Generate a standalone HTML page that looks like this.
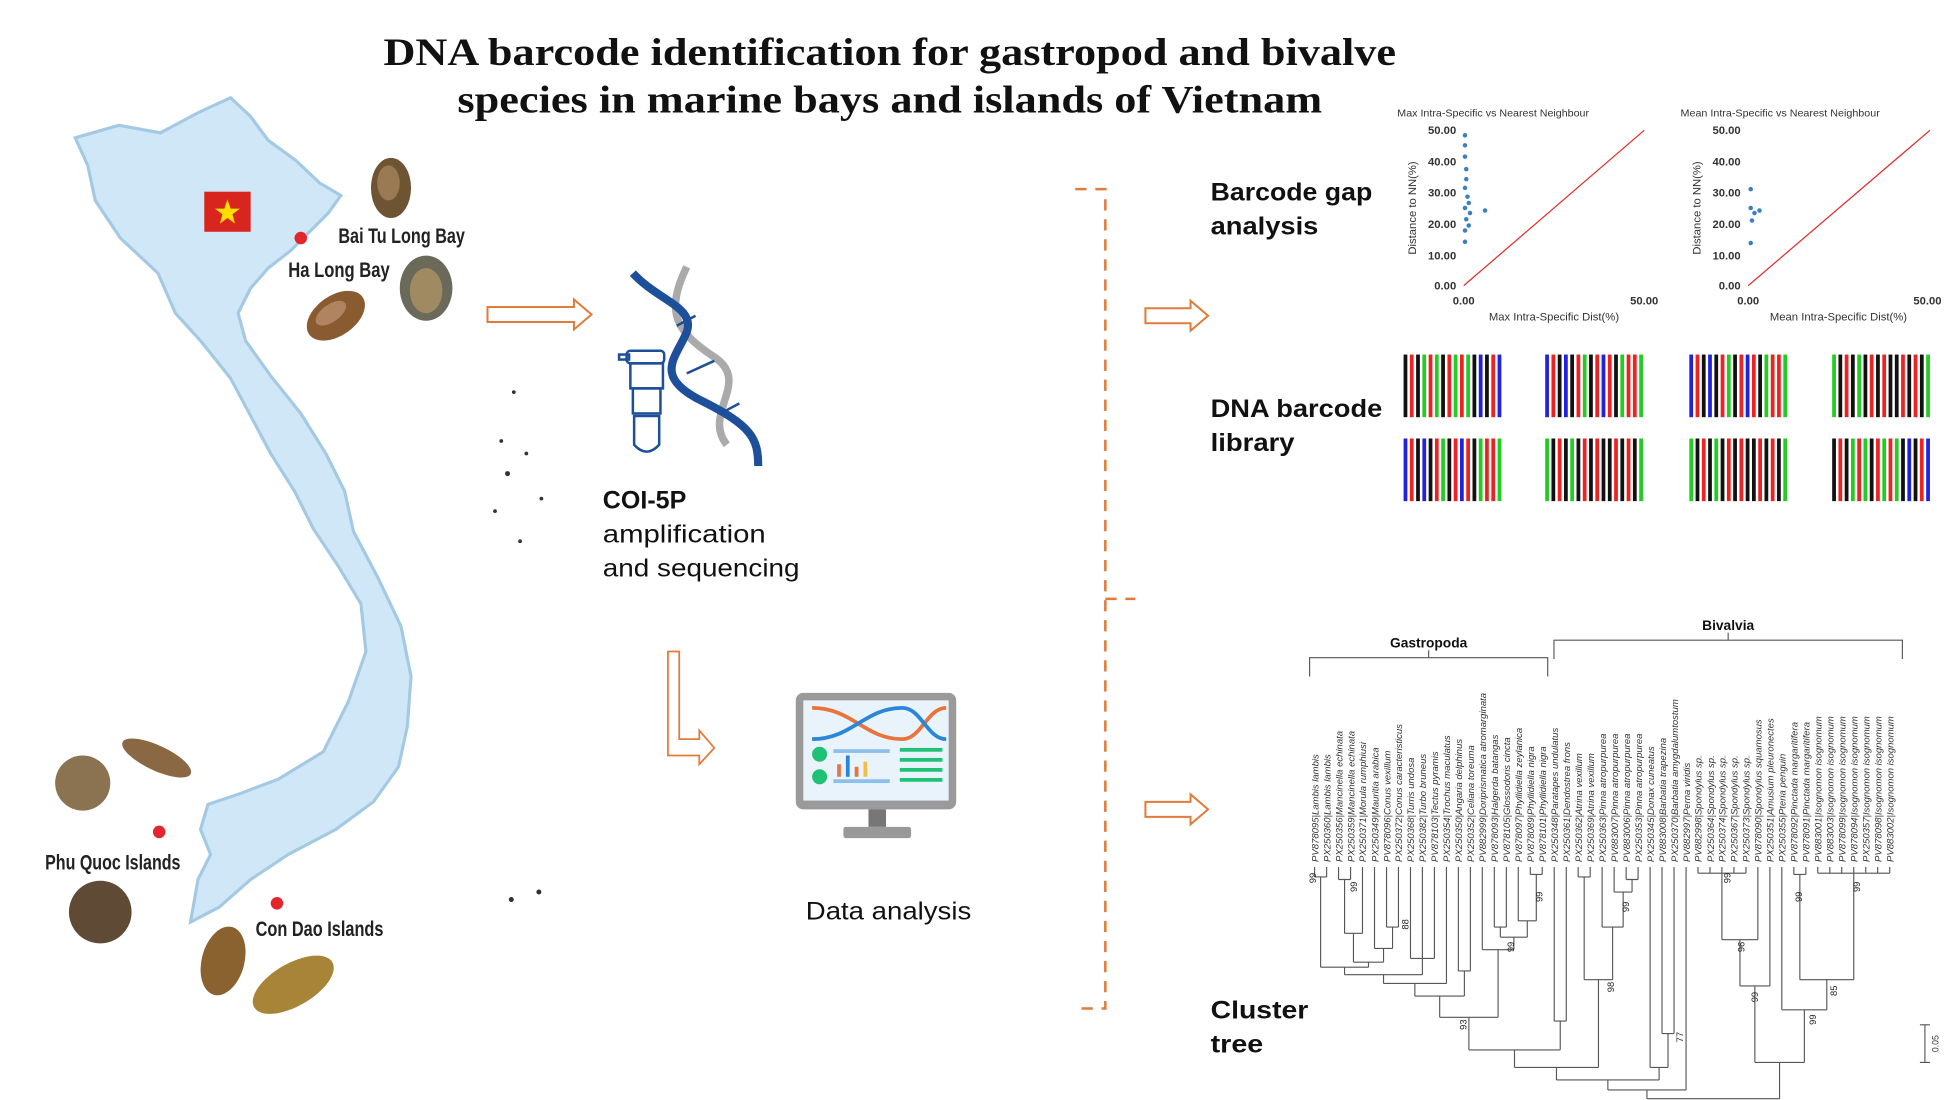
<!DOCTYPE html>
<html><head><meta charset="utf-8"><style>
html,body{margin:0;padding:0;background:#fff;}
svg{display:block;}
</style></head><body>
<svg width="1955" height="1100" viewBox="0 0 1560 878" preserveAspectRatio="none" xmlns="http://www.w3.org/2000/svg" font-family="Liberation Sans, sans-serif">
<rect width="1560" height="878" fill="#fff"/>
<!-- Title -->
<text x="710" y="52" text-anchor="middle" font-family="Liberation Serif, serif" font-weight="bold" font-size="31" textLength="808" lengthAdjust="spacingAndGlyphs" fill="#111">DNA barcode identification for gastropod and bivalve</text>
<text x="710" y="90" text-anchor="middle" font-family="Liberation Serif, serif" font-weight="bold" font-size="31" textLength="690" lengthAdjust="spacingAndGlyphs" fill="#111">species in marine bays and islands of Vietnam</text>

<!-- Map -->
<path d="M60 110 L95 100 L128 106 L158 90 L184 78 L200 93 L214 112 L236 128 L255 146 L272 156 L262 170 L248 184 L232 200 L214 214 L200 230 L190 250 L196 272 L216 300 L240 330 L260 362 L275 392 L282 424 L302 462 L320 500 L328 540 L325 580 L318 612 L298 640 L268 662 L230 682 L200 702 L175 724 L152 736 L158 702 L168 682 L160 662 L166 642 L190 634 L222 622 L258 600 L278 560 L292 520 L288 482 L270 452 L250 422 L235 392 L216 362 L200 332 L184 302 L160 272 L140 250 L126 218 L96 190 L76 160 L70 132 Z" fill="#cfe7f7" stroke="#a3c9e3" stroke-width="2.5"/>
<rect x="163" y="153" width="37" height="32" fill="#d8261f"/>
<polygon points="181.5,159 184,166.5 191.5,166.5 185.5,171 187.5,178.5 181.5,174 175.5,178.5 177.5,171 171.5,166.5 179,166.5" fill="#ffde00"/>
<circle cx="240" cy="190" r="5" fill="#e3262b"/>
<circle cx="127" cy="664" r="5" fill="#e3262b"/>
<circle cx="221" cy="721" r="5" fill="#e3262b"/>
<text x="270" y="194" font-size="17" font-weight="bold" textLength="101" lengthAdjust="spacingAndGlyphs" fill="#222">Bai Tu Long Bay</text>
<text x="230" y="221" font-size="17" font-weight="bold" textLength="81" lengthAdjust="spacingAndGlyphs" fill="#222">Ha Long Bay</text>
<text x="36" y="694" font-size="17" font-weight="bold" textLength="108" lengthAdjust="spacingAndGlyphs" fill="#222">Phu Quoc Islands</text>
<text x="204" y="747" font-size="17" font-weight="bold" textLength="102" lengthAdjust="spacingAndGlyphs" fill="#222">Con Dao Islands</text>
<!-- shells -->
<ellipse cx="312" cy="150" rx="16" ry="24" fill="#6f5434"/>
<ellipse cx="310" cy="146" rx="9" ry="14" fill="#9a7a52"/>
<ellipse cx="268" cy="252" rx="26" ry="16" transform="rotate(-35 268 252)" fill="#8a5a30"/>
<ellipse cx="264" cy="250" rx="14" ry="7" transform="rotate(-35 264 250)" fill="#b08460"/>
<ellipse cx="340" cy="230" rx="21" ry="26" fill="#6b6a5a"/>
<ellipse cx="340" cy="232" rx="13" ry="18" fill="#a08a62"/>
<ellipse cx="66" cy="625" rx="22" ry="22" fill="#8b7250"/>
<ellipse cx="125" cy="605" rx="30" ry="10" transform="rotate(25 125 605)" fill="#8a6844"/>
<ellipse cx="80" cy="728" rx="25" ry="25" fill="#5f4a35"/>
<ellipse cx="178" cy="767" rx="17" ry="28" transform="rotate(15 178 767)" fill="#8a6230"/>
<ellipse cx="234" cy="786" rx="36" ry="17" transform="rotate(-30 234 786)" fill="#a88438"/>
<!-- islands dots -->
<g fill="#333"><circle cx="410" cy="313" r="1.5"/><circle cx="400" cy="352" r="1.5"/><circle cx="405" cy="378" r="2"/><circle cx="420" cy="362" r="1.5"/><circle cx="395" cy="408" r="1.5"/><circle cx="415" cy="432" r="1.5"/><circle cx="432" cy="398" r="1.5"/><circle cx="408" cy="718" r="2"/><circle cx="430" cy="712" r="2"/></g>

<!-- arrow 1 -->
<polygon points="389,245 458,245 458,239 472,251 458,263 458,257 389,257" fill="#fff" stroke="#e07b39" stroke-width="1.6"/>
<!-- DNA icon -->
<path d="M548 213 C530 250,540 265,570 285 C600 305,560 330,580 355" fill="none" stroke="#aaa" stroke-width="6"/>
<path d="M505 218 C525 240,555 245,548 265 C540 285,520 300,560 320 C600 340,605 350,605 372" fill="none" stroke="#1d4f9a" stroke-width="6.5"/>
<g stroke="#1d4f9a" stroke-width="2"><line x1="540" y1="260" x2="555" y2="252"/><line x1="548" y1="298" x2="570" y2="288"/><line x1="575" y1="330" x2="590" y2="322"/></g>
<g fill="none" stroke="#1d4f9a" stroke-width="2"><rect x="500" y="280" width="30" height="10" rx="3"/><rect x="494" y="283" width="8" height="4"/><rect x="503" y="290" width="26" height="20"/><rect x="505" y="310" width="22" height="20"/><path d="M506 332 L506 355 Q516 366 526 355 L526 332 Z"/></g>
<text x="481" y="406" font-size="20" font-weight="bold" fill="#111">COI-5P</text>
<text x="481" y="433" font-size="20" fill="#111" textLength="130" lengthAdjust="spacingAndGlyphs">amplification</text>
<text x="481" y="460" font-size="20" fill="#111" textLength="157" lengthAdjust="spacingAndGlyphs">and sequencing</text>
<!-- L arrow -->
<polygon points="533,520 542,520 542,590 558,590 558,583 570,597 558,610 558,603 533,603" fill="#fff" stroke="#e07b39" stroke-width="1.4"/>
<!-- monitor -->
<rect x="635" y="553" width="128" height="93" rx="6" fill="#9a9a9a"/>
<rect x="641" y="559" width="116" height="80" fill="#e8f3fb"/>
<path d="M648 565 C680 565,690 590,720 590 C735 590,740 565,755 565" fill="none" stroke="#e8743c" stroke-width="3"/>
<path d="M648 590 C680 590,690 565,720 565 C735 565,740 590,755 590" fill="none" stroke="#2a86d8" stroke-width="3"/>
<circle cx="654" cy="602" r="6" fill="#20c075"/><circle cx="654" cy="620" r="6" fill="#20c075"/>
<rect x="665" y="598" width="45" height="3" fill="#8cc0ec"/>
<rect x="668" y="610" width="3" height="10" fill="#e8743c"/><rect x="675" y="603" width="3" height="17" fill="#2a86d8"/><rect x="682" y="612" width="3" height="8" fill="#e8743c"/><rect x="689" y="608" width="3" height="12" fill="#f2c040"/>
<rect x="665" y="622" width="45" height="3" fill="#8cc0ec"/>
<g fill="#20c075"><rect x="718" y="597" width="34" height="3"/><rect x="718" y="605" width="34" height="3"/><rect x="718" y="613" width="34" height="3"/><rect x="718" y="621" width="34" height="3"/></g>
<rect x="693" y="646" width="14" height="14" fill="#777"/>
<rect x="673" y="660" width="54" height="9" rx="2" fill="#999"/>
<text x="643" y="734" font-size="20" fill="#111" textLength="132" lengthAdjust="spacingAndGlyphs">Data analysis</text>

<!-- bracket -->
<g fill="none" stroke="#e07b39" stroke-width="2" stroke-dasharray="9,7"><path d="M858 151 H882 V805 H858"/><path d="M882 478 H906"/></g>
<polygon points="914,246 950,246 950,240 964,252 950,264 950,258 914,258" fill="#fff" stroke="#e07b39" stroke-width="1.6"/>
<polygon points="914,640 950,640 950,634 964,646 950,658 950,652 914,652" fill="#fff" stroke="#e07b39" stroke-width="1.6"/>

<g font-size="20" font-weight="bold" fill="#111">
<text x="966" y="160" textLength="129" lengthAdjust="spacingAndGlyphs">Barcode gap</text>
<text x="966" y="187" textLength="86" lengthAdjust="spacingAndGlyphs">analysis</text>
<text x="966" y="333" textLength="137" lengthAdjust="spacingAndGlyphs">DNA barcode</text>
<text x="966" y="360" textLength="67" lengthAdjust="spacingAndGlyphs">library</text>
<text x="966" y="813" textLength="78" lengthAdjust="spacingAndGlyphs">Cluster</text>
<text x="966" y="840" textLength="42" lengthAdjust="spacingAndGlyphs">tree</text>
</g>

<!-- plots -->
<g font-size="8" fill="#333">
<text x="1115" y="93" textLength="153" lengthAdjust="spacingAndGlyphs">Max Intra-Specific vs Nearest Neighbour</text>
<text x="1341" y="93" textLength="159" lengthAdjust="spacingAndGlyphs">Mean Intra-Specific vs Nearest Neighbour</text>
<g font-weight="bold" font-size="9" text-anchor="end">
<text x="1162" y="107">50.00</text><text x="1162" y="132">40.00</text><text x="1162" y="157">30.00</text><text x="1162" y="182">20.00</text><text x="1162" y="207">10.00</text><text x="1162" y="231">0.00</text>
<text x="1389" y="107">50.00</text><text x="1389" y="132">40.00</text><text x="1389" y="157">30.00</text><text x="1389" y="182">20.00</text><text x="1389" y="207">10.00</text><text x="1389" y="231">0.00</text>
</g>
<g font-weight="bold" font-size="9" text-anchor="middle"><text x="1168" y="243">0.00</text><text x="1312" y="243">50.00</text><text x="1395" y="243">0.00</text><text x="1538" y="243">50.00</text></g>
<text x="1240" y="256" font-size="9" text-anchor="middle">Max Intra-Specific Dist(%)</text>
<text x="1467" y="256" font-size="9" text-anchor="middle">Mean Intra-Specific Dist(%)</text>
<text transform="translate(1130 166) rotate(-90)" font-size="9" text-anchor="middle">Distance to NN(%)</text>
<text transform="translate(1357 166) rotate(-90)" font-size="9" text-anchor="middle">Distance to NN(%)</text>
</g>
<line x1="1168" y1="228" x2="1312" y2="104" stroke="#e03030" stroke-width="1"/>
<line x1="1395" y1="228" x2="1540" y2="104" stroke="#e03030" stroke-width="1"/>
<g fill="#3a7fc0">
<circle cx="1169" cy="108" r="1.8"/><circle cx="1169" cy="116" r="1.8"/><circle cx="1169" cy="125" r="1.8"/><circle cx="1170" cy="135" r="1.8"/><circle cx="1170" cy="143" r="1.8"/><circle cx="1169" cy="150" r="1.8"/><circle cx="1171" cy="157" r="1.8"/><circle cx="1172" cy="162" r="1.8"/><circle cx="1169" cy="166" r="1.8"/><circle cx="1173" cy="170" r="1.8"/><circle cx="1170" cy="175" r="1.8"/><circle cx="1172" cy="180" r="1.8"/><circle cx="1169" cy="184" r="1.8"/><circle cx="1169" cy="193" r="1.8"/><circle cx="1185" cy="168" r="1.8"/>
<circle cx="1397" cy="151" r="1.8"/><circle cx="1397" cy="166" r="1.8"/><circle cx="1400" cy="170" r="1.8"/><circle cx="1404" cy="168" r="1.8"/><circle cx="1398" cy="176" r="1.8"/><circle cx="1397" cy="194" r="1.8"/>
</g>

<!-- barcodes -->
<defs>
<g id="bA"><rect x="0" width="3" height="50" fill="#111"/><rect x="5" width="3" height="50" fill="#e22"/><rect x="10" width="3" height="50" fill="#111"/><rect x="15" width="3" height="50" fill="#2c2"/><rect x="20" width="3" height="50" fill="#e22"/><rect x="25" width="3" height="50" fill="#2c2"/><rect x="30" width="3" height="50" fill="#111"/><rect x="35" width="3" height="50" fill="#e22"/><rect x="40" width="3" height="50" fill="#2c2"/><rect x="45" width="3" height="50" fill="#e22"/><rect x="50" width="3" height="50" fill="#2c2"/><rect x="55" width="3" height="50" fill="#111"/><rect x="60" width="3" height="50" fill="#22d"/><rect x="65" width="3" height="50" fill="#111"/><rect x="70" width="3" height="50" fill="#e22"/><rect x="75" width="3" height="50" fill="#22d"/></g>
<g id="bB"><rect x="0" width="3" height="50" fill="#22d"/><rect x="5" width="3" height="50" fill="#e22"/><rect x="10" width="3" height="50" fill="#111"/><rect x="15" width="3" height="50" fill="#22d"/><rect x="20" width="3" height="50" fill="#111"/><rect x="25" width="3" height="50" fill="#e22"/><rect x="30" width="3" height="50" fill="#2c2"/><rect x="35" width="3" height="50" fill="#111"/><rect x="40" width="3" height="50" fill="#e22"/><rect x="45" width="3" height="50" fill="#22d"/><rect x="50" width="3" height="50" fill="#e22"/><rect x="55" width="3" height="50" fill="#111"/><rect x="60" width="3" height="50" fill="#2c2"/><rect x="65" width="3" height="50" fill="#e22"/><rect x="70" width="3" height="50" fill="#e22"/><rect x="75" width="3" height="50" fill="#2c2"/></g>
<g id="bC"><rect x="0" width="3" height="50" fill="#2c2"/><rect x="5" width="3" height="50" fill="#111"/><rect x="10" width="3" height="50" fill="#e22"/><rect x="15" width="3" height="50" fill="#111"/><rect x="20" width="3" height="50" fill="#2c2"/><rect x="25" width="3" height="50" fill="#111"/><rect x="30" width="3" height="50" fill="#e22"/><rect x="35" width="3" height="50" fill="#111"/><rect x="40" width="3" height="50" fill="#e22"/><rect x="45" width="3" height="50" fill="#111"/><rect x="50" width="3" height="50" fill="#111"/><rect x="55" width="3" height="50" fill="#e22"/><rect x="60" width="3" height="50" fill="#111"/><rect x="65" width="3" height="50" fill="#e22"/><rect x="70" width="3" height="50" fill="#111"/><rect x="75" width="3" height="50" fill="#2c2"/></g>
</defs>
<use href="#bA" x="1120" y="283"/><use href="#bB" x="1233" y="283"/><use href="#bB" x="1348" y="283"/><use href="#bC" x="1462" y="283"/>
<use href="#bB" x="1120" y="350"/><use href="#bC" x="1233" y="350"/><use href="#bC" x="1348" y="350"/><use href="#bA" x="1462" y="350"/>

<!-- tree -->
<g fill="none" stroke="#555" stroke-width="0.9">
<path d="M1045 540V525H1235V540M1140 525V519M1240 526V511H1518V526M1379 511V505"/>
<path d="M1049 692V700M1058.6 692V700M1068.1 692V702M1077.7 692V702M1087.2 692V745M1096.8 692V757M1106.4 692V740M1115.9 692V740M1125.5 692V765M1135 692V765M1144.6 692V765M1154.2 692V785M1163.7 692V775M1173.3 692V775M1182.8 692V758M1192.4 692V740M1202 692V740M1211.5 692V735M1221.1 692V698M1230.6 692V698M1240.2 692V815M1249.8 692V815M1259.3 692V700M1268.9 692V700M1278.4 692V740M1288 692V712M1297.6 692V702M1307.1 692V702M1316.7 692V852M1326.2 692V825M1335.8 692V825M1345.4 692V870M1354.9 692V697M1364.5 692V697M1374 692V697M1383.6 692V697M1393.2 692V697M1402.7 692V750M1412.3 692V787M1421.8 692V806M1431.4 692V698M1441 692V698M1450.5 692V697M1460.1 692V697M1469.6 692V697M1479.2 692V697M1488.8 692V697M1498.3 692V697M1507.9 692V697"/>
<path d="M1049 700H1058.6M1053.8 700V772M1068.1 702H1077.7M1072.9 702V745M1072.9 745H1087.2M1080 745V768M1106.4 740H1115.9M1111.2 740V757M1096.8 757H1111.2M1104 757V768M1080 768H1104M1092 768V772M1053.8 772H1092M1072.9 772V778M1125.5 765H1144.6M1135 765V778M1072.9 778H1135M1104 778V785M1104 785H1154.2M1129 785V795M1163.7 775H1173.3M1168.5 775V795M1129 795H1168.5M1148.8 795V812M1221.1 698H1230.6M1225.9 698V735M1211.5 735H1225.9M1218.7 735V748M1192.4 740H1202M1197.2 740V748M1197.2 748H1218.7M1208 748V758M1182.8 758H1208M1195.4 758V812M1148.8 812H1195.4M1172.1 812V838M1240.2 815H1249.8M1245 815V838M1172.1 838H1245M1208.5 838V852"/>
<path d="M1259.3 700H1268.9M1264.1 700V782M1297.6 702H1307.1M1302.3 702V712M1288 712H1302.3M1295.2 712V740M1278.4 740H1295.2M1286.8 740V782M1264.1 782H1286.8M1275.5 782V852M1208.5 852H1275.5M1242 852V862M1326.2 825H1335.8M1331 825V852M1316.7 852H1331M1323.9 852V862M1242 862H1323.9M1283 862V870M1283 870H1345.4M1314.2 870V877M1354.9 697H1393.2M1374 697V750M1374 750H1402.7M1388.4 750V787M1388.4 787H1412.3M1400.3 787V848M1431.4 698H1441M1436.2 698V782M1450.5 697H1507.9M1479.2 697V782M1436.2 782H1479.2M1457.7 782V806M1421.8 806H1457.7M1439.8 806V848M1400.3 848H1439.8M1420 848V877M1314.2 877H1420"/>
<path d="M1536 818V848M1532 818H1540M1532 848H1540"/>
</g>
<g font-size="11" font-weight="bold" fill="#111" text-anchor="middle"><text x="1140" y="517">Gastropoda</text><text x="1379" y="503">Bivalvia</text></g>
<text transform="translate(1547 833) rotate(-90)" font-size="7" text-anchor="middle" fill="#333">0.05</text>
<g font-size="7.5" fill="#222">
<text transform="translate(1050 705) rotate(-90)">99</text><text transform="translate(1083 712) rotate(-90)">99</text><text transform="translate(1124 742) rotate(-90)">88</text><text transform="translate(1208 760) rotate(-90)">99</text><text transform="translate(1231 720) rotate(-90)">99</text><text transform="translate(1170 822) rotate(-90)">93</text><text transform="translate(1288 792) rotate(-90)">98</text><text transform="translate(1300 728) rotate(-90)">99</text><text transform="translate(1343 832) rotate(-90)">77</text><text transform="translate(1381 705) rotate(-90)">99</text><text transform="translate(1392 760) rotate(-90)">96</text><text transform="translate(1403 800) rotate(-90)">99</text><text transform="translate(1438 720) rotate(-90)">99</text><text transform="translate(1466 795) rotate(-90)">85</text><text transform="translate(1449 818) rotate(-90)">99</text><text transform="translate(1484 712) rotate(-90)">99</text>
</g>
<g font-size="7.6" font-style="italic" fill="#333">
<text transform="translate(1052 688) rotate(-90)">PV878095|Lambis lambis</text>
<text transform="translate(1061.6 688) rotate(-90)">PX250360|Lambis lambis</text>
<text transform="translate(1071.1 688) rotate(-90)">PX250356|Mancinella echinata</text>
<text transform="translate(1080.7 688) rotate(-90)">PX250359|Mancinella echinata</text>
<text transform="translate(1090.2 688) rotate(-90)">PX250371|Morula rumphiusi</text>
<text transform="translate(1099.8 688) rotate(-90)">PX250349|Mauritia arabica</text>
<text transform="translate(1109.4 688) rotate(-90)">PV878096|Conus vexillum</text>
<text transform="translate(1118.9 688) rotate(-90)">PX250372|Conus caracteristicus</text>
<text transform="translate(1128.5 688) rotate(-90)">PX250368|Turris undosa</text>
<text transform="translate(1138 688) rotate(-90)">PX250382|Turbo bruneus</text>
<text transform="translate(1147.6 688) rotate(-90)">PV878103|Tectus pyramis</text>
<text transform="translate(1157.2 688) rotate(-90)">PX250354|Trochus maculatus</text>
<text transform="translate(1166.7 688) rotate(-90)">PX250350|Angaria delphinus</text>
<text transform="translate(1176.3 688) rotate(-90)">PX250352|Celiana toreuma</text>
<text transform="translate(1185.8 688) rotate(-90)">PV882999|Doriprismatica atromarginata</text>
<text transform="translate(1195.4 688) rotate(-90)">PV878093|Halgerda batangas</text>
<text transform="translate(1205 688) rotate(-90)">PV878105|Glossodoris cincta</text>
<text transform="translate(1214.5 688) rotate(-90)">PV878097|Phyllidiella zeylanica</text>
<text transform="translate(1224.1 688) rotate(-90)">PV878089|Phyllidiella nigra</text>
<text transform="translate(1233.6 688) rotate(-90)">PV878101|Phyllidiella nigra</text>
<text transform="translate(1243.2 688) rotate(-90)">PX250348|Paratapes undulatus</text>
<text transform="translate(1252.8 688) rotate(-90)">PX250361|Dendostrea frons</text>
<text transform="translate(1262.3 688) rotate(-90)">PX250362|Atrina vexillum</text>
<text transform="translate(1271.9 688) rotate(-90)">PX250369|Atrina vexillum</text>
<text transform="translate(1281.4 688) rotate(-90)">PX250363|Pinna atropurpurea</text>
<text transform="translate(1291 688) rotate(-90)">PV883007|Pinna atropurpurea</text>
<text transform="translate(1300.6 688) rotate(-90)">PV883006|Pinna atropurpurea</text>
<text transform="translate(1310.1 688) rotate(-90)">PX250353|Pinna atropurpurea</text>
<text transform="translate(1319.7 688) rotate(-90)">PX250345|Donax cuneatus</text>
<text transform="translate(1329.2 688) rotate(-90)">PV883008|Barbatia trapezina</text>
<text transform="translate(1338.8 688) rotate(-90)">PX250370|Barbatia amygdalumtostum</text>
<text transform="translate(1348.4 688) rotate(-90)">PV882997|Perna viridis</text>
<text transform="translate(1357.9 688) rotate(-90)">PV882998|Spondylus sp.</text>
<text transform="translate(1367.5 688) rotate(-90)">PX250364|Spondylus sp.</text>
<text transform="translate(1377 688) rotate(-90)">PX250374|Spondylus sp.</text>
<text transform="translate(1386.6 688) rotate(-90)">PX250367|Spondylus sp.</text>
<text transform="translate(1396.2 688) rotate(-90)">PX250373|Spondylus sp.</text>
<text transform="translate(1405.7 688) rotate(-90)">PV878090|Spondylus squamosus</text>
<text transform="translate(1415.3 688) rotate(-90)">PX250351|Amusium pleuronectes</text>
<text transform="translate(1424.8 688) rotate(-90)">PX250355|Pteria penguin</text>
<text transform="translate(1434.4 688) rotate(-90)">PV878092|Pinctada margaritifera</text>
<text transform="translate(1444 688) rotate(-90)">PV878091|Pinctada margaritifera</text>
<text transform="translate(1453.5 688) rotate(-90)">PV883001|Isognomon isognomum</text>
<text transform="translate(1463.1 688) rotate(-90)">PV883003|Isognomon isognomum</text>
<text transform="translate(1472.6 688) rotate(-90)">PV878099|Isognomon isognomum</text>
<text transform="translate(1482.2 688) rotate(-90)">PV878094|Isognomon isognomum</text>
<text transform="translate(1491.8 688) rotate(-90)">PX250357|Isognomon isognomum</text>
<text transform="translate(1501.3 688) rotate(-90)">PV878098|Isognomon isognomum</text>
<text transform="translate(1510.9 688) rotate(-90)">PV883002|Isognomon isognomum</text>
</g>
</svg>
</body></html>
